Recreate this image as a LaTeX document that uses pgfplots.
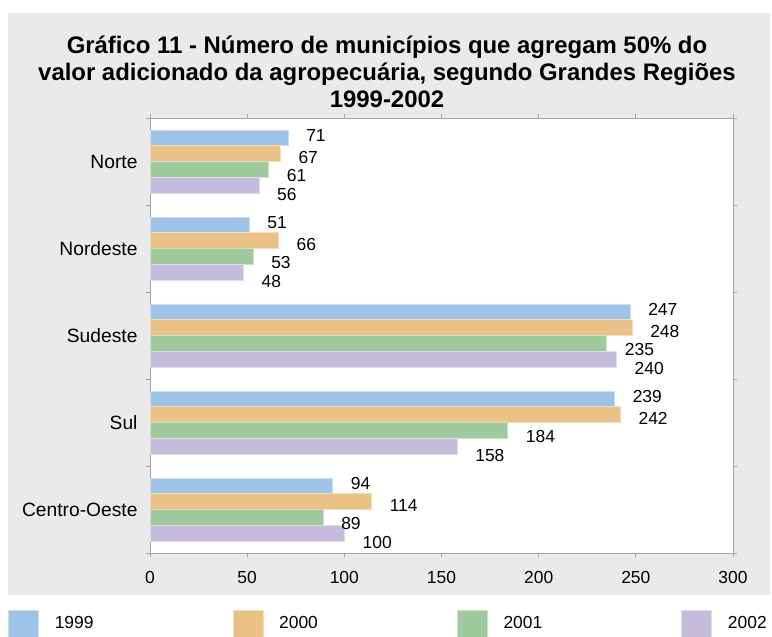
\documentclass[border=0pt]{standalone}
\usepackage{pgfplots}
\pgfplotsset{compat=1.18}
\usepackage{fontspec}
\setmainfont{Liberation Sans}
\definecolor{c1999}{RGB}{157,195,230}
\definecolor{c2000}{RGB}{234,194,135}
\definecolor{c2001}{RGB}{158,202,158}
\definecolor{c2002}{RGB}{197,187,219}
\definecolor{bggray}{RGB}{234,234,234}
\definecolor{axgray}{RGB}{165,165,165}
\begin{document}
\begin{tikzpicture}
\useasboundingbox (0bp,0bp) rectangle (772bp,637bp);
\fill[white] (0bp,0bp) rectangle (772bp,637bp);
\fill[bggray] (8bp,42bp) rectangle (770bp,624bp);
\begin{axis}[
  at={(150bp,84bp)}, anchor=south west,
  scale only axis, width=583bp, height=435bp,
  xbar, bar width=15.75bp,
  xmin=0, xmax=300, ymin=-0.5, ymax=4.5,
  axis background/.style={fill=white},
  xtick={0,50,...,300},
  ytick={0,1,2,3,4},
  yticklabels={Centro-Oeste,Sul,Sudeste,Nordeste,Norte},
  minor ytick={-0.5,0.5,...,4.5},
  major y tick style={draw=none},
  tick align=outside,
  major tick length=4bp, minor tick length=4bp,
  tick style={draw=axgray, line width=0.8bp},
  axis line style={draw=axgray, line width=0.8bp},
  /pgf/number format/assume math mode=true,
  x tick label style={yshift=-11bp, font=\fontsize{17.5}{17.5}\selectfont},
  y tick label style={xshift=-5bp, font=\fontsize{19.3}{19.3}\selectfont},
  nodes near coords,
  every node near coord/.append style={anchor=west, inner sep=0pt, xshift=18bp, font=\fontsize{17.5}{17.5}\selectfont, text=black},
  legend columns=4,
  legend cell align=left,
  legend style={at={(-0.2436,-0.162)}, anchor=west, draw=none, fill=none,
    font=\fontsize{17.5}{17.5}\selectfont, inner sep=0pt,
    nodes={inner sep=0pt},
    /tikz/every odd column/.append style={column sep=16bp},
    /tikz/every even column/.append style={column sep=139bp}},
  legend image code/.code={\fill[#1] (0bp,-13.5bp) rectangle (30bp,13.5bp);},
]
\addplot[fill=c1999, draw=c1999!55!white, line width=0.6bp, bar shift=23.6bp,
  every node near coord/.append style={yshift=2bp}]
  coordinates {(71,4) (51,3) (247,2) (239,1) (94,0)};
\addplot[fill=c2000, draw=c2000!55!white, line width=0.6bp, bar shift=7.9bp,
  every node near coord/.append style={yshift=-4bp}]
  coordinates {(67,4) (66,3) (248,2) (242,1) (114,0)};
\addplot[fill=c2001, draw=c2001!55!white, line width=0.6bp, bar shift=-7.9bp,
  every node near coord/.append style={yshift=-6bp}]
  coordinates {(61,4) (53,3) (235,2) (184,1) (89,0)};
\addplot[fill=c2002, draw=c2002!55!white, line width=0.6bp, bar shift=-23.6bp,
  every node near coord/.append style={yshift=-9bp}]
  coordinates {(56,4) (48,3) (240,2) (158,1) (100,0)};
\legend{1999,2000,2001,2002}
\end{axis}
\node[align=center, font=\fontsize{24}{27.3}\selectfont\bfseries] at (387bp,565bp)
  {Gráfico 11 - Número de municípios que agregam 50\% do\\valor adicionado da agropecuária, segundo Grandes Regiões\\1999-2002};
\end{tikzpicture}
\end{document}
